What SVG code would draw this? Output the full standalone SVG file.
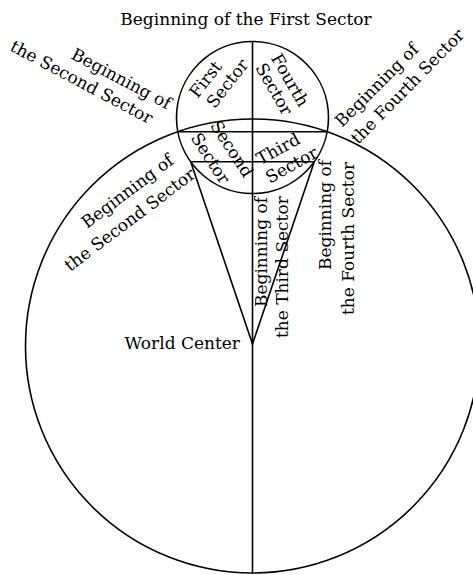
<svg xmlns="http://www.w3.org/2000/svg" width="473" height="575" viewBox="0 0 473 575">
<style>
.ln{fill:none;stroke:#000;stroke-width:1.6}
text{font-family:"DejaVu Serif","Liberation Serif",serif;font-size:17px;fill:#000}
.m{text-anchor:middle}
.e{text-anchor:end}
</style>
<rect width="473" height="575" fill="#fff"/>
<g id="connectors">
<circle id="world" class="ln" cx="252.5" cy="346" r="227"/>
<circle id="small" class="ln" cx="252.5" cy="117.5" r="76"/>
<line class="ln" x1="252.5" y1="41.5" x2="252.5" y2="573"/>
<line class="ln" x1="177.8" y1="131.7" x2="327.2" y2="131.7"/>
<line class="ln" x1="190.7" y1="161.7" x2="314.3" y2="161.7"/>
<polyline class="ln" points="190.7,161.7 252.5,344 314.3,161.7"/>
</g>
<g id="label-top"><text class="m" x="246" y="25">Beginning of the First Sector</text></g>
<g id="label-ul">
<text transform="translate(70,58) rotate(28)">Beginning of</text>
<text transform="translate(9,50) rotate(28)">the Second Sector</text>
</g>
<g id="label-ur">
<text transform="translate(342,128) rotate(-45)">Beginning of</text>
<text transform="translate(358,145) rotate(-45.5)">the Fourth Sector</text>
</g>
<g id="label-ll">
<text transform="translate(87,229) rotate(-37)">Beginning of</text>
<text transform="translate(70,272) rotate(-37)">the Second Sector</text>
</g>
<g id="label-third">
<text transform="translate(267,307) rotate(-90)">Beginning of</text>
<text transform="translate(288,338) rotate(-90)">the Third Sector</text>
</g>
<g id="label-fourth">
<text transform="translate(331,270) rotate(-90)">Beginning of</text>
<text transform="translate(354,315) rotate(-90)">the Fourth Sector</text>
</g>
<g id="world-center"><text class="e" x="240" y="349">World Center</text></g>
<g id="first-sector">
<text class="m" transform="translate(210,83) rotate(-52)">First</text>
<text class="m" transform="translate(232,87) rotate(-52)">Sector</text>
</g>
<g id="fourth-sector">
<text class="m" transform="translate(285,83) rotate(60)">Fourth</text>
<text class="m" transform="translate(269,92) rotate(60)">Sector</text>
</g>
<g id="second-sector">
<text class="m" transform="translate(227,152) rotate(57)">Second</text>
<text class="m" transform="translate(205.5,161.5) rotate(57)">Sector</text>
</g>
<g id="third-sector">
<text class="m" transform="translate(281,154) rotate(-29)">Third</text>
<text class="m" transform="translate(294.5,170) rotate(-29)">Sector</text>
</g>
</svg>
